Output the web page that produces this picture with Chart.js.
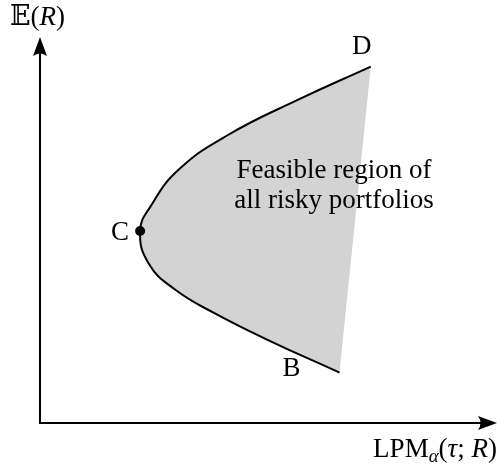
<!DOCTYPE html>
<html>
<head>
<meta charset="utf-8">
<script src="https://cdn.jsdelivr.net/npm/chart.js@4.4.0/dist/chart.umd.min.js"></script>
<style>
html, body { margin: 0; padding: 0; background: #fff; }
#wrap { width: 502px; height: 468px; }
</style>
</head>
<body>
<div id="wrap"><canvas id="chart"></canvas></div>
<script>
// frontier, going from B round C up to D
const frontierX = [7.57, 5.75, 4.42, 3.42, 2.75, 2.53, 2.79, 3.50, 4.75, 6.54, 8.36];
const frontierY = [1.26, 2.08, 2.74, 3.33, 3.98, 4.80, 5.41, 6.33, 7.20, 8.09, 8.91];
const pointNames = ['B', 'C', 'D'];
const pointIndex = [0, 5, 10];
const regionText = ['Feasible region of', 'all risky portfolios'];
const xMax = 11.55;
const yMax = 9.65;

const serif = '"Liberation Serif", "DejaVu Serif", serif';
const fontSize = 27;

function drawRich(ctx, parts, x, y, align) {
    var w = 0;
    parts.forEach(function(p) { ctx.font = p[1]; w += ctx.measureText(p[0]).width; });
    var cx = align === 'right' ? x - w : x;
    parts.forEach(function(p) {
        ctx.font = p[1];
        ctx.fillText(p[0], cx, y + (p[2] || 0));
        cx += ctx.measureText(p[0]).width;
    });
}

function arrowHead(ctx, x, y, up) {
    ctx.save();
    ctx.translate(x, y);
    if (up) ctx.rotate(-Math.PI / 2);
    ctx.beginPath();
    ctx.moveTo(0, 0);
    ctx.lineTo(-19, -7);
    ctx.quadraticCurveTo(-14, 0, -19, 7);
    ctx.closePath();
    ctx.fill();
    ctx.restore();
}

const decorations = {
    id: 'decorations',
    afterDraw: function(chart) {
        const ctx = chart.ctx;
        const xs = chart.scales.x, ys = chart.scales.y;
        const x0 = xs.getPixelForValue(0), y0 = ys.getPixelForValue(0);
        const xEnd = xs.getPixelForValue(xMax), yEnd = ys.getPixelForValue(yMax);
        ctx.save();
        ctx.strokeStyle = '#000';
        ctx.fillStyle = '#000';
        ctx.lineWidth = 2;
        ctx.beginPath();
        ctx.moveTo(x0, yEnd + 10);
        ctx.lineTo(x0, y0);
        ctx.lineTo(xEnd - 10, y0);
        ctx.stroke();
        arrowHead(ctx, x0, yEnd, true);
        arrowHead(ctx, xEnd, y0, false);

        const f = fontSize + 'px ' + serif;
        const fi = 'italic ' + fontSize + 'px ' + serif;
        ctx.textBaseline = 'alphabetic';
        ctx.textAlign = 'left';
        drawRich(ctx, [['𝔼', f], ['(', f], ['R', fi], [')', f]], 10, 25);
        drawRich(ctx, [['LPM', f], ['α', 'italic 19px ' + serif, 5], ['(', f], ['τ', fi], ['; ', f], ['R', fi], [')', f]], 497, 457, 'right');

        // point labels
        ctx.font = f;
        ctx.textAlign = 'center';
        ctx.textBaseline = 'middle';
        const offs = { D: [-9, -20], C: [-20, 2], B: [-48, -4] };
        pointNames.forEach(function(n, i) {
            const k = pointIndex[i];
            const px = xs.getPixelForValue(frontierX[k]);
            const py = ys.getPixelForValue(frontierY[k]);
            ctx.fillText(n, px + offs[n][0], py + offs[n][1]);
        });

        // region text
        ctx.textBaseline = 'alphabetic';
        const tx = xs.getPixelForValue(7.43), ty = ys.getPixelForValue(6.13);
        regionText.forEach(function(t, i) {
            ctx.fillText(t, tx, ty + i * 30);
        });
        ctx.restore();
    }
};

const frontier = frontierX.map(function(x, i) { return { x: x, y: frontierY[i] }; });
const cIdx = pointIndex[pointNames.indexOf('C')];

new Chart(document.getElementById('chart'), {
    type: 'line',
    data: {
        datasets: [
            {
                data: frontier,
                order: 1,
                borderColor: '#000',
                borderWidth: 2,
                backgroundColor: '#d3d3d3',
                fill: 'shape',
                tension: 0.45,
                pointRadius: 0
            },
            {
                data: [{ x: frontierX[cIdx], y: frontierY[cIdx] }],
                order: 0,
                showLine: false,
                pointRadius: 5,
                pointBackgroundColor: '#000',
                pointBorderWidth: 0
            }
        ]
    },
    options: {
        responsive: true,
        maintainAspectRatio: false,
        animation: false,
        layout: { padding: { left: 40, right: 0, top: 37, bottom: 45 } },
        plugins: { legend: { display: false }, tooltip: { enabled: false } },
        scales: {
            x: { type: 'linear', min: 0, max: xMax, display: false },
            y: { type: 'linear', min: 0, max: yMax, display: false }
        }
    },
    plugins: [decorations]
});
</script>
</body>
</html>
